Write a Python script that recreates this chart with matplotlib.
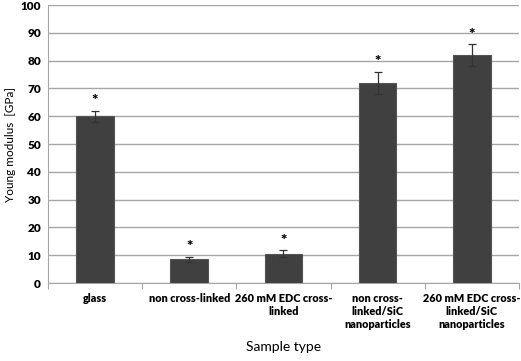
import numpy as np
import matplotlib
matplotlib.use("Agg")
import matplotlib.pyplot as plt

plt.rcParams['font.family'] = ['Lato', 'DejaVu Sans']

categories = ["glass", "non cross-linked", "260 mM EDC cross-\nlinked",
              "non cross-\nlinked/SiC\nnanoparticles",
              "260 mM EDC cross-\nlinked/SiC\nnanoparticles"]
modulus = [60, 8.5, 10.5, 72, 82]
errors = [2, 1, 1.3, 4, 4]

fig = plt.figure(figsize=(5.21, 3.61), dpi=100)
ax = fig.add_axes([0.092, 0.216, 0.904, 0.770])

x = np.arange(len(categories))
ax.bar(x, modulus, width=0.4, color="#404040", edgecolor="#555555", linewidth=0.8, zorder=3)
ax.errorbar(x, modulus, yerr=errors, fmt="none", ecolor="#333333", elinewidth=0.9,
            capsize=3, capthick=0.9, zorder=4)
# significance markers
for xi, v, e in zip(x, modulus, errors):
    ax.text(xi, v + e + 1.2, "*", ha="center", va="bottom", fontsize=11, fontweight="heavy")

ax.set_xlim(-0.5, len(categories) - 0.5)
ax.set_ylim(0, 100)
ax.set_yticks(np.arange(0, 101, 10))
ax.yaxis.grid(True, color="#a6a6a6", linewidth=1.0, zorder=0)
ax.tick_params(axis="y", length=0, labelsize=8.5, pad=5)
for lbl in ax.get_yticklabels():
    lbl.set_fontweight("heavy")

ax.set_xticks(np.arange(-0.5, len(categories), 1.0), minor=False)
ax.set_xticklabels([])
ax.tick_params(axis="x", which="major", length=4, color="#a6a6a6", direction="out")
ax.set_xticks(x, minor=True)
ax.set_xticklabels(categories, minor=True, fontsize=7.8, fontweight="heavy", linespacing=1.25)
ax.tick_params(axis="x", which="minor", length=0, pad=7)

for s in ["top", "right"]:
    ax.spines[s].set_visible(False)
ax.spines["left"].set_color("#a6a6a6")
ax.spines["bottom"].set_color("#a6a6a6")

ax.set_ylabel("Young modulus  [GPa]", fontsize=8.5, labelpad=3)
ax.set_xlabel("Sample type", fontsize=10, labelpad=8)

fig.savefig("out.png", dpi=100)
